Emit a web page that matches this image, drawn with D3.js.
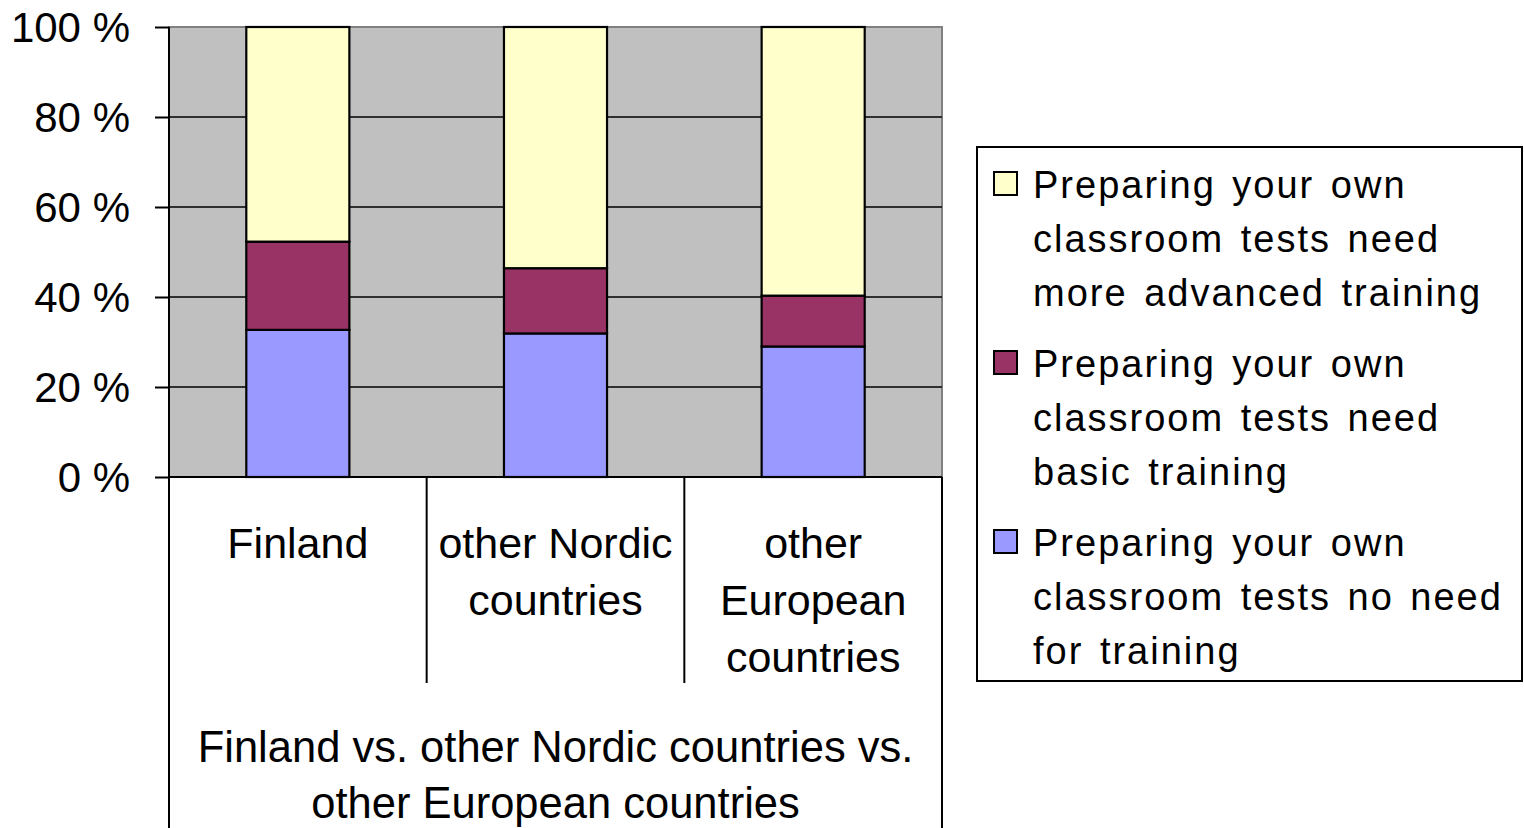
<!DOCTYPE html>
<html lang="en">
<head>
    <meta charset="utf-8">
    <title>Preparing classroom tests - training need</title>
    <script src="https://d3js.org/d3.v7.min.js"></script>
    <style>
        html, body { margin: 0; padding: 0; background: #fff; }
        svg text { font-family: Arial, 'Liberation Sans', sans-serif; fill: #000; }
    </style>
</head>
<body>
<div id="chart"></div>
<script>
/* global d3 */

// data (percent of respondents)
var categories = ["Finland", "other Nordic countries", "other European countries"];
var categoryLines = [["Finland"], ["other Nordic", "countries"], ["other", "European", "countries"]];
var groupLines = ["Finland vs. other Nordic countries vs.", "other European countries"];
var noNeed = [32.7, 31.9, 29.0];
var basic = [19.6, 14.5, 11.3];
var advanced = [47.7, 53.6, 59.7];
var yTicks = [0, 20, 40, 60, 80, 100];

var seriesNames = [
    ["Preparing your own", "classroom tests need", "more advanced training"],
    ["Preparing your own", "classroom tests need", "basic training"],
    ["Preparing your own", "classroom tests no need", "for training"]
];
var seriesKeys = ["noNeed", "basic", "advanced"];
var colors = { noNeed: "#9999ff", basic: "#993366", advanced: "#ffffcc" };

var width = 1524,
    height = 828;

var plot = { left: 169, right: 942, top: 27, bottom: 477 };

var rows = categories.map(function(c, i) {
    return { cat: c, noNeed: noNeed[i], basic: basic[i], advanced: advanced[i] };
});

var svg = d3.select("#chart").append("svg")
    .attr("width", width)
    .attr("height", height);

var x = d3.scaleBand()
    .domain(categories)
    .range([plot.left, plot.right])
    .paddingInner(0.6)
    .paddingOuter(0.3);

var xGroup = d3.scaleBand()
    .domain(categories)
    .range([plot.left, plot.right]);

var y = d3.scaleLinear()
    .domain([0, 100])
    .range([plot.bottom, plot.top]);

// plot background
svg.append("rect")
    .attr("x", plot.left)
    .attr("y", plot.top)
    .attr("width", plot.right - plot.left)
    .attr("height", plot.bottom - plot.top)
    .attr("fill", "#c0c0c0")
    .attr("stroke", "#808080")
    .attr("stroke-width", 2);

// gridlines
svg.append("g")
    .selectAll("line")
    .data(yTicks.filter(function(d) { return d > 0 && d < 100; }))
    .join("line")
    .attr("x1", plot.left)
    .attr("x2", plot.right)
    .attr("y1", function(d) { return y(d); })
    .attr("y2", function(d) { return y(d); })
    .attr("stroke", "#000")
    .attr("stroke-width", 1.6);

// stacked bars
var stack = d3.stack().keys(seriesKeys);
var layers = stack(rows);

svg.append("g")
    .selectAll("g")
    .data(layers)
    .join("g")
    .attr("fill", function(d) { return colors[d.key]; })
    .selectAll("rect")
    .data(function(d) { return d; })
    .join("rect")
    .attr("x", function(d) { return x(d.data.cat); })
    .attr("width", x.bandwidth())
    .attr("y", function(d) { return y(d[1]); })
    .attr("height", function(d) { return y(d[0]) - y(d[1]); })
    .attr("stroke", "#000")
    .attr("stroke-width", 2.2);

// y axis
var yAxis = svg.append("g")
    .attr("transform", "translate(" + plot.left + ",0)")
    .call(d3.axisLeft(y)
        .tickValues(yTicks)
        .tickSize(14)
        .tickPadding(25)
        .tickFormat(function(d) { return d + " %"; }));

yAxis.select(".domain").remove();
yAxis.selectAll(".tick line").attr("stroke", "#000").attr("stroke-width", 2);
yAxis.selectAll(".tick text")
    .style("font-size", "42px")
    .attr("dy", "0.35em");

// axis frame lines
svg.append("line")
    .attr("x1", plot.left).attr("x2", plot.left)
    .attr("y1", plot.top).attr("y2", height)
    .attr("stroke", "#000").attr("stroke-width", 2);

svg.append("line")
    .attr("x1", plot.left).attr("x2", plot.right)
    .attr("y1", plot.bottom).attr("y2", plot.bottom)
    .attr("stroke", "#000").attr("stroke-width", 2);

svg.append("line")
    .attr("x1", plot.right).attr("x2", plot.right)
    .attr("y1", plot.bottom).attr("y2", height)
    .attr("stroke", "#000").attr("stroke-width", 2);

// category dividers
svg.append("g")
    .selectAll("line")
    .data(categories.slice(1))
    .join("line")
    .attr("x1", function(d) { return xGroup(d); })
    .attr("x2", function(d) { return xGroup(d); })
    .attr("y1", plot.bottom)
    .attr("y2", 683)
    .attr("stroke", "#000")
    .attr("stroke-width", 2);

// category labels
svg.append("g")
    .selectAll("text")
    .data(categories)
    .join("text")
    .attr("x", function(d) { return xGroup(d) + xGroup.bandwidth() / 2; })
    .attr("y", 558)
    .attr("text-anchor", "middle")
    .style("font-size", "43px")
    .selectAll("tspan")
    .data(function(d, i) { return categoryLines[i]; })
    .join("tspan")
    .attr("x", function() { return this.parentNode.getAttribute("x"); })
    .attr("dy", function(d, i) { return i === 0 ? 0 : 57; })
    .text(function(d) { return d; });

// group label
svg.append("text")
    .attr("x", (plot.left + plot.right) / 2)
    .attr("y", 762)
    .attr("text-anchor", "middle")
    .style("font-size", "43.5px")
    .selectAll("tspan")
    .data(groupLines)
    .join("tspan")
    .attr("x", (plot.left + plot.right) / 2)
    .attr("dy", function(d, i) { return i === 0 ? 0 : 56; })
    .text(function(d) { return d; });

// legend
var legend = svg.append("g");

legend.append("rect")
    .attr("x", 977)
    .attr("y", 147)
    .attr("width", 545)
    .attr("height", 534)
    .attr("fill", "#fff")
    .attr("stroke", "#000")
    .attr("stroke-width", 2);

var legendOrder = ["advanced", "basic", "noNeed"];

var entry = legend.selectAll("g.entry")
    .data(legendOrder)
    .join("g")
    .attr("class", "entry")
    .attr("transform", function(d, i) { return "translate(0," + (i * 179) + ")"; });

entry.append("rect")
    .attr("x", 994)
    .attr("y", 172)
    .attr("width", 23)
    .attr("height", 23)
    .attr("fill", function(d) { return colors[d]; })
    .attr("stroke", "#000")
    .attr("stroke-width", 2);

entry.append("text")
    .attr("x", 1033)
    .attr("y", 198)
    .style("font-size", "38px")
    .style("letter-spacing", "2px")
    .style("word-spacing", "4px")
    .selectAll("tspan")
    .data(function(d, i) { return seriesNames[i]; })
    .join("tspan")
    .attr("x", 1033)
    .attr("dy", function(d, i) { return i === 0 ? 0 : 54; })
    .text(function(d) { return d; });
</script>
</body>
</html>
